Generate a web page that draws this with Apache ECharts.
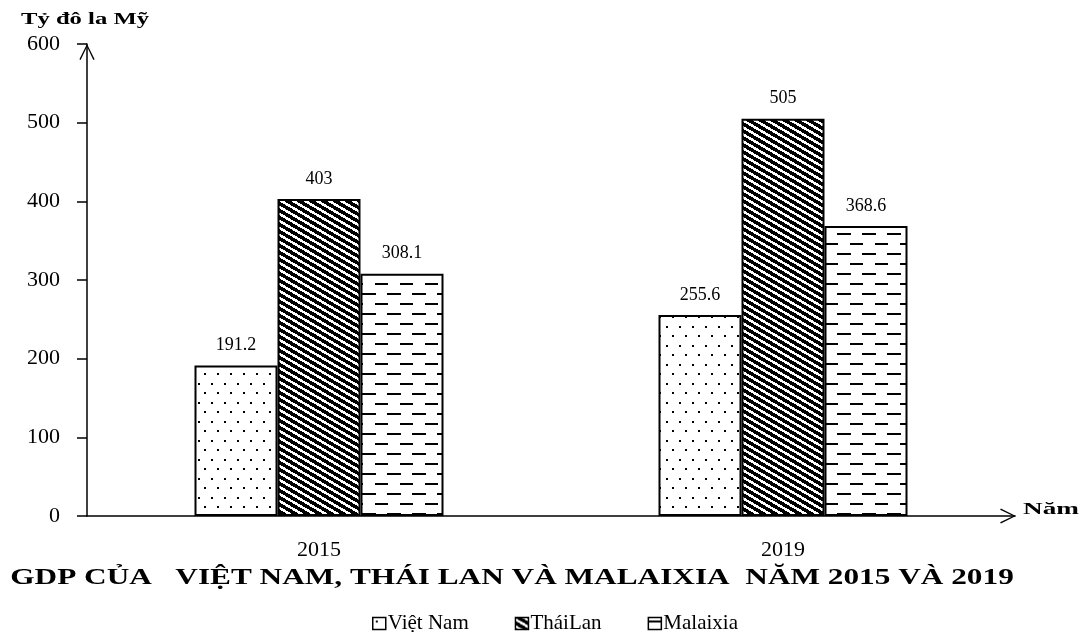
<!DOCTYPE html>
<html>
<head>
<meta charset="utf-8">
<script src="https://cdn.jsdelivr.net/npm/echarts@6/dist/echarts.min.js"></script>
<style>html,body{margin:0;padding:0;background:#fff}#c{width:1088px;height:632px}</style>
</head>
<body>
<div id="c"></div>
<script>
const categories = ['2015', '2019'];
const vietNam = [191.2, 255.6];
const thaiLan = [403, 505];
const malaixia = [308.1, 368.6];
const seriesNames = ['Việt Nam', 'TháiLan', 'Malaixia'];
const yTickLabels = ['0', '100', '200', '300', '400', '500', '600'];
const titleText = 'GDP CỦA   VIỆT NAM, THÁI LAN VÀ MALAIXIA  NĂM 2015 VÀ 2019';
const yAxisTitle = 'Tỷ đô la Mỹ';
const xAxisTitle = 'Năm';

function makeCanvas(w, h) {
  const c = document.createElement('canvas');
  c.width = w; c.height = h;
  const g = c.getContext('2d');
  g.fillStyle = '#fff'; g.fillRect(0, 0, w, h);
  return [c, g];
}
function dotPattern() {
  const [c, g] = makeCanvas(26, 19);
  g.fillStyle = '#000';
  g.fillRect(3, 3, 2, 2);
  g.fillRect(16, 3, 2, 2);
  g.fillRect(9, 12, 2, 2);
  g.fillRect(22, 12, 2, 2);
  return c;
}
function stripePattern() {
  const [c, g] = makeCanvas(12, 7);
  g.fillStyle = '#000';
  for (let y = 0; y < 7; y++) for (let x = 0; x < 12; x++) {
    const v = ((x - Math.round(12 * y / 7)) % 12 + 12) % 12;
    if (v < 7) g.fillRect(x, y, 1, 1);
  }
  return c;
}
function dashPattern() {
  const [c, g] = makeCanvas(25, 20);
  g.fillStyle = '#000';
  g.fillRect(0, 3, 13, 2);
  g.fillRect(12, 13, 13, 2);
  g.fillRect(0, 13, 1, 2);
  return c;
}
const patterns = [dotPattern(), stripePattern(), dashPattern()];
const seriesData = [vietNam, thaiLan, malaixia];

const serif = '"Liberation Serif", "Times New Roman", serif';
const arrowPath = 'path://M0,10 L5,0 L10,10 L9.2,10.5 L5,1.8 L0.8,10.5 Z';

const chart = echarts.init(document.getElementById('c'));
chart.setOption({
  animation: false,
  backgroundColor: '#fff',
  graphic: [
    { type: 'text', x: 512, y: 578, scaleX: 1.36, silent: true,
      style: { text: titleText, textAlign: 'center', textVerticalAlign: 'middle',
               font: 'bold 23px ' + serif, fill: '#000' } },
    { type: 'text', x: 85, y: 20, scaleX: 1.45, silent: true,
      style: { text: yAxisTitle, textAlign: 'center', textVerticalAlign: 'middle',
               font: 'bold 17px ' + serif, fill: '#000' } },
    { type: 'text', x: 1023, y: 510, scaleX: 1.6, silent: true,
      style: { text: xAxisTitle, textAlign: 'left', textVerticalAlign: 'middle',
               font: 'bold 17px ' + serif, fill: '#000' } }
  ],
  legend: {
    top: 608,
    left: 367,
    icon: 'rect',
    itemWidth: 13,
    itemHeight: 12,
    itemGap: 46,
    itemStyle: { borderColor: '#000', borderWidth: 1.5 },
    textStyle: { fontFamily: serif, fontSize: 21, color: '#000', padding: [0, 0, 0, -3] },
    data: seriesNames
  },
  grid: { left: 87, right: 73, top: 44, bottom: 116, containLabel: false },
  xAxis: {
    type: 'category',
    data: categories,
    axisLine: { lineStyle: { color: '#000', width: 1.5 }, symbol: ['none', arrowPath], symbolSize: [15, 19], symbolOffset: [0, -7] },
    axisTick: { lineStyle: { color: '#000', width: 2 }, length: 5 },
    axisLabel: { fontFamily: serif, fontSize: 22, color: '#000', margin: 23 }
  },
  yAxis: {
    type: 'value',
    min: 0, max: 600, interval: 100,
    splitLine: { show: false },
    axisLine: { show: true, lineStyle: { color: '#000', width: 1.5 }, symbol: ['none', arrowPath], symbolSize: [25, 16], symbolOffset: [0, -8] },
    axisTick: { show: true, length: 10, lineStyle: { color: '#000', width: 1.5 } },
    axisLabel: { fontFamily: serif, fontSize: 22, color: '#000', margin: 27,
                 formatter: (v) => yTickLabels[Math.round(v / 100)] }
  },
  series: seriesNames.map((n, i) => ({
    name: n,
    type: 'bar',
    data: seriesData[i],
    barWidth: 83,
    barGap: '0%',
    itemStyle: { color: { image: patterns[i], repeat: 'repeat' }, borderColor: '#000', borderWidth: 2 },
    label: { show: true, position: 'top', distance: 11, fontFamily: serif, fontSize: 18, color: '#000' }
  }))
});
</script>
</body>
</html>
